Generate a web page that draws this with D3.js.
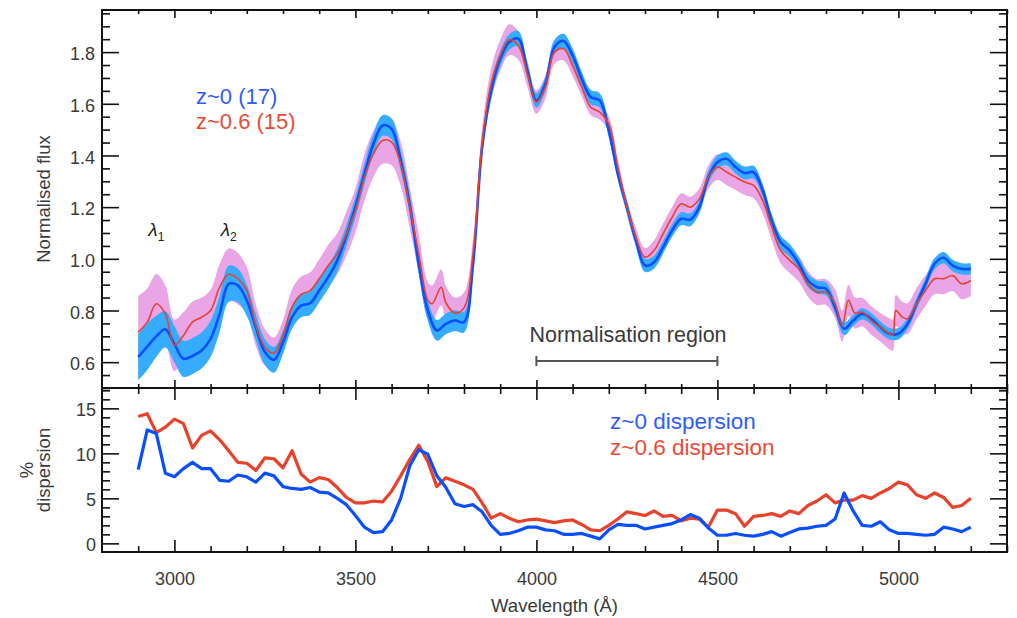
<!DOCTYPE html>
<html><head><meta charset="utf-8">
<script src="https://cdn.jsdelivr.net/npm/d3@7"></script>
<style>
body{margin:0;background:#fff}
svg{display:block;font-family:"Liberation Sans",Arial,Helvetica,sans-serif}
</style>
</head><body>
<svg id="chart" width="1017" height="618"></svg>
<script>
// ---------------- DATA ----------------
const wavelengths = [2900,2925,2950,2975,3000,3025,3050,3075,3100,3125,3150,3175,3200,3225,3250,3275,3300,3325,3350,3375,3400,3425,3450,3475,3500,3525,3550,3575,3600,3625,3650,3675,3700,3725,3750,3775,3800,3825,3850,3875,3900,3925,3950,3975,4000,4025,4050,4075,4100,4125,4150,4175,4200,4225,4250,4275,4300,4325,4350,4375,4400,4425,4450,4475,4500,4525,4550,4575,4600,4625,4650,4675,4700,4725,4750,4775,4800,4825,4850,4875,4900,4925,4950,4975,5000,5025,5050,5075,5100,5125,5150,5175,5200];

// z~0 mean normalised flux and its dispersion band half-width
const fluxZ0 = [0.62,0.66,0.70,0.727,0.67,0.613,0.624,0.645,0.69,0.787,0.903,0.897,0.839,0.735,0.639,0.609,0.677,0.774,0.819,0.828,0.877,0.929,0.994,1.09,1.2,1.329,1.445,1.516,1.503,1.381,1.21,0.98,0.8,0.723,0.748,0.761,0.755,0.98,1.432,1.652,1.774,1.839,1.852,1.729,1.613,1.677,1.82,1.843,1.787,1.697,1.626,1.613,1.497,1.329,1.2,1.071,0.974,0.987,1.045,1.11,1.155,1.151,1.2,1.316,1.374,1.387,1.355,1.332,1.335,1.265,1.148,1.064,1.032,0.981,0.916,0.89,0.884,0.813,0.729,0.761,0.787,0.768,0.735,0.71,0.71,0.748,0.826,0.903,0.981,1.004,0.974,0.961,0.961];
const sigmaZ0 = [0.09,0.09,0.08,0.07,0.07,0.07,0.07,0.07,0.07,0.07,0.07,0.065,0.06,0.05,0.05,0.05,0.045,0.045,0.045,0.045,0.045,0.045,0.045,0.04,0.04,0.04,0.04,0.04,0.04,0.04,0.04,0.04,0.04,0.04,0.04,0.04,0.04,0.035,0.035,0.035,0.03,0.03,0.03,0.03,0.028,0.028,0.028,0.028,0.028,0.028,0.028,0.028,0.028,0.025,0.025,0.025,0.025,0.025,0.025,0.025,0.025,0.025,0.025,0.025,0.025,0.025,0.025,0.025,0.025,0.025,0.025,0.025,0.025,0.025,0.025,0.025,0.025,0.025,0.025,0.022,0.022,0.022,0.022,0.022,0.022,0.022,0.022,0.022,0.022,0.022,0.022,0.022,0.022];

// z~0.6 sampled on its own wavelengths (keeps narrow features)
const wavelengthsZ06 = [2900,2925,2950,2975,3000,3025,3050,3075,3100,3125,3150,3175,3200,3225,3250,3275,3300,3325,3350,3375,3400,3425,3450,3475,3500,3525,3550,3575,3600,3625,3650,3675,3700,3712,3737,3750,3775,3800,3825,3850,3875,3900,3925,3950,3975,4000,4025,4050,4075,4100,4125,4150,4175,4200,4225,4250,4275,4300,4325,4350,4375,4400,4425,4450,4475,4500,4525,4550,4575,4600,4625,4650,4675,4700,4725,4750,4775,4800,4825,4845,4862,4880,4900,4925,4950,4975,4985,4993,5010,5025,5050,5075,5100,5125,5150,5175,5200];
const fluxZ06 = [0.716,0.755,0.826,0.787,0.665,0.703,0.755,0.774,0.80,0.89,0.94,0.923,0.877,0.742,0.658,0.635,0.703,0.813,0.862,0.877,0.923,0.974,1.019,1.097,1.187,1.316,1.407,1.458,1.452,1.368,1.2,1.019,0.84,0.826,0.89,0.83,0.79,0.81,1.019,1.445,1.677,1.787,1.848,1.826,1.716,1.606,1.665,1.80,1.813,1.748,1.665,1.587,1.568,1.522,1.355,1.2,1.084,1.006,1.032,1.097,1.161,1.213,1.2,1.232,1.316,1.355,1.336,1.316,1.297,1.284,1.226,1.123,1.032,0.994,0.961,0.903,0.871,0.871,0.826,0.74,0.84,0.79,0.794,0.761,0.735,0.71,0.705,0.80,0.775,0.768,0.826,0.877,0.923,0.923,0.935,0.903,0.916];
const sigmaZ06 = [0.14,0.13,0.115,0.11,0.10,0.09,0.08,0.075,0.08,0.09,0.10,0.10,0.09,0.08,0.07,0.06,0.06,0.07,0.07,0.07,0.075,0.08,0.08,0.085,0.085,0.09,0.09,0.09,0.09,0.085,0.08,0.075,0.07,0.07,0.07,0.065,0.06,0.06,0.06,0.06,0.06,0.06,0.06,0.055,0.05,0.045,0.045,0.045,0.045,0.04,0.035,0.03,0.03,0.03,0.03,0.03,0.035,0.035,0.04,0.04,0.04,0.04,0.04,0.04,0.045,0.05,0.05,0.05,0.05,0.05,0.05,0.05,0.05,0.05,0.05,0.05,0.05,0.05,0.055,0.06,0.06,0.06,0.055,0.055,0.055,0.06,0.06,0.06,0.06,0.06,0.06,0.06,0.06,0.06,0.06,0.06,0.06];

// % dispersion (lower panel), on the common wavelength grid
const dispZ0 = [8.2,12.6,12.2,7.8,7.4,8.3,9.0,8.3,8.3,7.0,6.9,7.6,7.4,6.8,7.8,7.5,6.3,6.1,6.0,6.2,5.7,5.6,5.0,4.3,3.1,1.8,1.2,1.3,2.6,5.0,8.6,10.4,9.9,7.5,6.2,4.4,4.1,4.3,3.5,2.0,1.0,1.1,1.4,1.8,1.8,1.5,1.4,1.0,1.0,1.1,0.8,0.5,1.5,2.1,2.0,2.0,1.6,1.8,2.0,2.2,2.6,3.2,2.8,1.7,0.9,0.9,1.1,0.9,0.8,1.0,1.3,0.8,1.2,1.6,1.7,1.9,2.0,2.7,5.6,3.6,2.0,1.9,2.4,1.5,1.1,1.1,1.0,0.9,1.0,1.8,1.6,1.3,1.8];
const dispZ06 = [14.1,14.4,12.3,12.9,13.8,13.3,10.6,12.0,12.5,11.5,10.3,9.0,8.9,8.1,9.5,9.4,8.4,10.3,7.7,6.8,7.3,7.1,6.2,5.1,4.5,4.5,4.7,4.6,5.8,7.5,9.3,10.9,9.1,6.3,7.3,6.9,6.5,6.0,4.5,2.8,3.3,2.8,2.4,2.6,2.7,2.5,2.3,2.5,2.6,2.1,1.5,1.4,2.0,2.7,3.5,3.3,3.1,3.6,3.0,3.1,2.5,2.8,2.7,1.8,3.7,3.7,3.3,1.9,3.0,3.1,3.3,3.0,3.6,3.3,4.2,4.7,5.4,4.5,4.8,4.8,5.3,5.0,5.6,6.1,6.8,6.5,5.4,5.0,5.6,5.1,4.0,4.2,5.0];

// axes / labels
const xMajorTicks = [3000,3500,4000,4500,5000];
const fluxMajorTicks = [0.6,0.8,1.0,1.2,1.4,1.6,1.8];
const dispMajorTicks = [0,5,10,15];
const legendTop = ["z~0 (17)","z~0.6 (15)"];
const legendBottom = ["z~0 dispersion","z~0.6 dispersion"];
const normRegion = [4000,4500];
const lambdaMarks = [{w:2950,sub:"1"},{w:3150,sub:"2"}];

// ---------------- LAYOUT ----------------
const L = 102, R = 1007, T = 10, MID = 388, B = 552;
const svg = d3.select("#chart");
const x = d3.scaleLinear().domain([2800,5300]).range([L,R]);
const yTop = d3.scaleLinear().domain([0.5,1.963]).range([MID,T]);
const yBot = d3.scaleLinear().domain([-0.96,17.26]).range([B,MID]);

const C = {blueBand:"#35acff", pinkBand:"#e9a5e5", blue:"#0a4fff", red:"#e8422c",
           blueTxt:"#2f5cff", redTxt:"#ea4b36", text:"#3a3a3a"};

const defs = svg.append("defs");
defs.append("clipPath").attr("id","clipTop").append("rect").attr("x",L).attr("y",T).attr("width",R-L).attr("height",MID-T);
defs.append("clipPath").attr("id","clipBot").append("rect").attr("x",L).attr("y",MID).attr("width",R-L).attr("height",B-MID);

const z0 = wavelengths.map((w,i)=>({w, m:fluxZ0[i], s:sigmaZ0[i]}));
const z06 = wavelengthsZ06.map((w,i)=>({w, m:fluxZ06[i], s:sigmaZ06[i]}));

const smooth = d3.curveCatmullRom.alpha(0.5);
const band = d3.area().curve(smooth).x(d=>x(d.w)).y0(d=>yTop(d.m-d.s)).y1(d=>yTop(d.m+d.s));
const mean = d3.line().curve(smooth).x(d=>x(d.w)).y(d=>yTop(d.m));

const gTop = svg.append("g").attr("clip-path","url(#clipTop)");
gTop.append("path").datum(z06).attr("d",band).attr("fill",C.pinkBand);
gTop.append("path").datum(z0).attr("d",band).attr("fill",C.blueBand);
gTop.append("path").datum(z0).attr("d",mean).attr("fill","none").attr("stroke",C.blue).attr("stroke-width",2.6).attr("stroke-linejoin","round");
gTop.append("path").datum(z06).attr("d",mean).attr("fill","none").attr("stroke",C.red).attr("stroke-width",1.6).attr("stroke-linejoin","round");

const dline = d3.line().x((d,i)=>x(wavelengths[i])).y(d=>yBot(d));
const gBot = svg.append("g").attr("clip-path","url(#clipBot)");
gBot.append("path").datum(dispZ06).attr("d",dline).attr("fill","none").attr("stroke",C.red).attr("stroke-width",3.2).attr("stroke-linejoin","round");
gBot.append("path").datum(dispZ0).attr("d",dline).attr("fill","none").attr("stroke",C.blue).attr("stroke-width",3.2).attr("stroke-linejoin","round");

// ---------------- AXES ----------------
const xMinor = d3.range(2900,5301,100).filter(v=>!xMajorTicks.includes(v));
const fluxMinor = d3.range(0.5,1.97,0.05).map(v=>+v.toFixed(2)).filter(v=>!fluxMajorTicks.some(m=>Math.abs(m-v)<1e-6));
const dispMinor = d3.range(0,18,1).filter(v=>!dispMajorTicks.includes(v));

function ticks(axisFn, scale, vals, size, tx, ty){
  const g = svg.append("g").attr("transform",`translate(${tx},${ty})`)
    .call(axisFn(scale).tickValues(vals).tickSize(size).tickFormat(""));
  g.select(".domain").remove();
  g.selectAll("line").attr("stroke","#111").attr("stroke-width",1.6);
  return g;
}
// top panel x ticks (inward)
ticks(d3.axisBottom, x, xMajorTicks, 8, 0, T);
ticks(d3.axisBottom, x, xMinor, 4, 0, T);
ticks(d3.axisTop, x, xMajorTicks, 8, 0, MID);
ticks(d3.axisTop, x, xMinor, 4, 0, MID);
// bottom panel x ticks
ticks(d3.axisBottom, x, xMajorTicks, 12, 0, MID);
ticks(d3.axisBottom, x, xMinor, 6, 0, MID);
ticks(d3.axisTop, x, xMajorTicks, 12, 0, B);
ticks(d3.axisTop, x, xMinor, 6, 0, B);
// y ticks
ticks(d3.axisRight, yTop, fluxMajorTicks, 17, L, 0);
ticks(d3.axisRight, yTop, fluxMinor, 8, L, 0);
ticks(d3.axisLeft, yTop, fluxMajorTicks, 17, R, 0);
ticks(d3.axisLeft, yTop, fluxMinor, 8, R, 0);
ticks(d3.axisRight, yBot, dispMajorTicks, 17, L, 0);
ticks(d3.axisRight, yBot, dispMinor, 8, L, 0);
ticks(d3.axisLeft, yBot, dispMajorTicks, 17, R, 0);
ticks(d3.axisLeft, yBot, dispMinor, 8, R, 0);

// frames
svg.append("rect").attr("x",L).attr("y",T).attr("width",R-L).attr("height",MID-T).attr("fill","none").attr("stroke","#111").attr("stroke-width",2);
svg.append("rect").attr("x",L).attr("y",MID).attr("width",R-L).attr("height",B-MID).attr("fill","none").attr("stroke","#111").attr("stroke-width",2);

// tick labels
function labels(axisFn, scale, vals, fmt, tx, ty, pad, dy){
  const g = svg.append("g").attr("transform",`translate(${tx},${ty})`)
    .call(axisFn(scale).tickValues(vals).tickSize(0).tickPadding(pad).tickFormat(fmt));
  g.select(".domain").remove();
  g.selectAll("text").attr("fill",C.text).style("font-size","18px").style("font-family",'"Liberation Sans",Arial,sans-serif');
  if(dy) g.selectAll("text").attr("dy",dy);
  return g;
}
labels(d3.axisLeft, yTop, fluxMajorTicks, d3.format(".1f"), L, 0, 7, "0.42em");
labels(d3.axisLeft, yBot, dispMajorTicks, d3.format("d"), L, 0, 6, "0.42em");
labels(d3.axisBottom, x, xMajorTicks, d3.format("d"), 0, B, 20, null);

// axis titles
svg.append("text").attr("transform",`translate(50,${(T+MID)/2}) rotate(-90)`).attr("text-anchor","middle")
  .attr("fill",C.text).style("font-size","18.5px").text("Normalised flux");
svg.append("text").attr("transform",`translate(33,${(MID+B)/2}) rotate(-90)`).attr("text-anchor","middle")
  .attr("fill",C.text).style("font-size","18.5px").text("%");
svg.append("text").attr("transform",`translate(50,${(MID+B)/2}) rotate(-90)`).attr("text-anchor","middle")
  .attr("fill",C.text).style("font-size","18.5px").text("dispersion");
svg.append("text").attr("x",(L+R)/2).attr("y",612).attr("text-anchor","middle")
  .attr("fill",C.text).style("font-size","18.5px").text("Wavelength (Å)");

// legends
svg.append("text").attr("x",196).attr("y",104).attr("fill",C.blueTxt).style("font-size","22px").text(legendTop[0]);
svg.append("text").attr("x",196).attr("y",129).attr("fill",C.redTxt).style("font-size","22px").text(legendTop[1]);
svg.append("text").attr("x",610).attr("y",429).attr("fill",C.blueTxt).style("font-size","22.5px").text(legendBottom[0]);
svg.append("text").attr("x",610).attr("y",455).attr("fill",C.redTxt).style("font-size","22.5px").text(legendBottom[1]);

// lambda marks
lambdaMarks.forEach(m=>{
  const t = svg.append("text").attr("x",x(m.w)-8).attr("y",236).attr("fill","#222").style("font-size","19px");
  t.append("tspan").style("font-style","italic").text("λ");
  t.append("tspan").attr("dy",5).style("font-size","12px").text(m.sub);
});

// normalisation region
const ny = 361;
const gN = svg.append("g").attr("stroke","#555").attr("stroke-width",2);
gN.append("line").attr("x1",x(normRegion[0])).attr("x2",x(normRegion[1])).attr("y1",ny).attr("y2",ny);
normRegion.forEach(w=>gN.append("line").attr("x1",x(w)).attr("x2",x(w)).attr("y1",ny-5).attr("y2",ny+5));
svg.append("text").attr("x",628).attr("y",342).attr("text-anchor","middle")
  .attr("fill",C.text).style("font-size","21.5px").text("Normalisation region");
</script>
</body></html>
